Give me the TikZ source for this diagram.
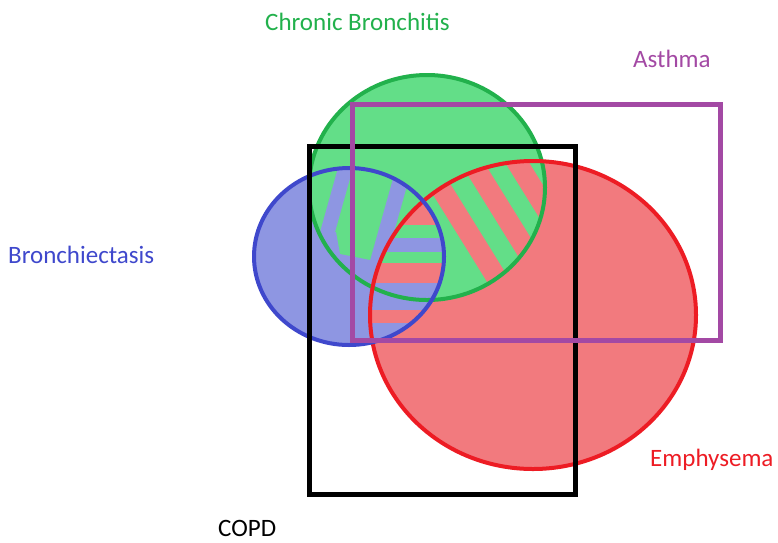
\documentclass[tikz,border=0pt]{standalone}
\usepackage{fontspec}
\setmainfont{Carlito}
\definecolor{cbline}{RGB}{34,177,76}
\definecolor{cbfill}{RGB}{99,222,136}
\definecolor{beline}{RGB}{63,72,204}
\definecolor{befill}{RGB}{142,150,226}
\definecolor{emline}{RGB}{237,28,36}
\definecolor{emfill}{RGB}{242,122,126}
\definecolor{asline}{RGB}{163,73,164}
\newcommand{\cbpath}{(427,187.5) ellipse [x radius=118, y radius=112.5]}
\newcommand{\bepath}{(349,256.5) ellipse [x radius=95, y radius=88.5]}
\newcommand{\empath}{(533,315) ellipse [x radius=163, y radius=154]}
\begin{document}
\begin{tikzpicture}[x=1pt,y=-1pt,
    lbl/.style={font=\fontsize{25}{30}\selectfont,anchor=base west,inner sep=0pt},
    rim/.style={line width=4pt}]
  \useasboundingbox (0,0) rectangle (778,542);
  \fill[emfill] \empath;
  \fill[cbfill] \cbpath;
  \fill[befill] \bepath;
  % bronchitis and bronchiectasis
  \begin{scope}
    \clip \cbpath;
    \clip \bepath;
    \fill[cbfill] (250,150) rectangle (450,350);
    \foreach \a/\w in {329/15,387/16} {
        \fill[befill] (\a+14,150) -- ++(\w,0) -- (\a+\w-30.8,310) -- (\a-30.8,310) -- cycle;
      }
    \fill[befill] (300,232) -- (336,232) -- (340,254) -- (380,262) -- (380,330) -- (300,330) -- cycle;
  \end{scope}
  % bronchitis and emphysema
  \begin{scope}
    \clip \cbpath;
    \clip \empath;
    \fill[cbfill] (360,150) rectangle (560,310);
    \foreach \a in {432,479,524} {
        \fill[emfill] (\a-26.7,150) -- ++(24,0) -- (\a+96.5,310) -- (\a+72.5,310) -- cycle;
      }
  \end{scope}
  % bronchiectasis and emphysema
  \begin{scope}
    \clip \bepath;
    \clip \empath;
    \foreach \ya/\yb/\c in {190/225/emfill,225/238/cbfill,238/252/befill,252/263/cbfill,
        263/283/emfill,283/310/befill,310/323/emfill,323/350/befill} {
        \fill[\c] (360,\ya) rectangle (450,\yb);
      }
  \end{scope}
  \draw[rim,cbline] \cbpath;
  \draw[rim,emline] \empath;
  \draw[rim,beline] \bepath;
  \draw[line width=5pt] (309,146) rectangle (575,494);
  \draw[line width=5pt,asline] (352,104) rectangle (720,340);
  \node[lbl,cbline] (cb) at (265,30) {Chronic Bronchitis};
  \node[lbl,asline] (as) at (633,67) {Asthma};
  \node[lbl,beline] (be) at (8,263) {Bronchiectasis};
  \node[lbl,emline] (em) at (650,466) {Emphysema};
  \node[lbl] (copd) at (218,536) {COPD};
\end{tikzpicture}
\end{document}
